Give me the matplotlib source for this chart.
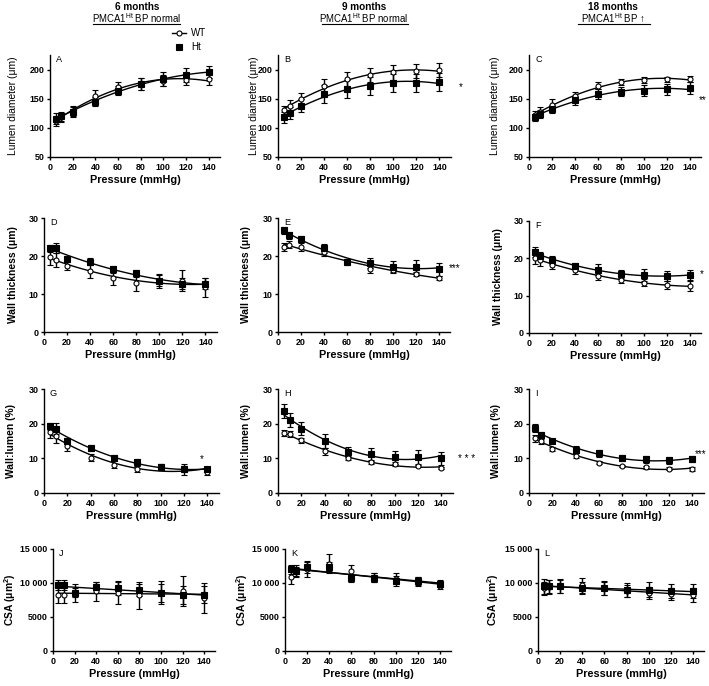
import numpy as np
import matplotlib
matplotlib.use("Agg")
import matplotlib.pyplot as plt
from matplotlib.lines import Line2D

plt.rcParams['font.family'] = ['Liberation Sans', 'DejaVu Sans']

# ---------------- data ----------------
pressure = [5, 10, 20, 40, 60, 80, 100, 120, 140]
xticks = [0, 20, 40, 60, 80, 100, 120, 140]

col_titles = ["6 months", "9 months", "18 months"]
col_subtitles = ["PMCA1$^{\\mathregular{Ht}}$ BP normal",
                 "PMCA1$^{\\mathregular{Ht}}$ BP normal",
                 "PMCA1$^{\\mathregular{Ht}}$ BP \u2191"]
row_labels = ["Lumen diameter (\u03bcm)", "Wall thickness (\u03bcm)",
              "Wall:lumen (%)", "CSA (\u03bcm$^{\\mathregular{2}}$)"]
panel_letters = ["A", "B", "C", "D", "E", "F", "G", "H", "I", "J", "K", "L"]
signif = ["", "*", "**", "", "***", "*", "*", "* * *", "***", "", "", ""]

# Lumen diameter (um)
lumen_6m_wt = [112, 118, 129, 155, 170, 175, 181, 182, 183]
lumen_6m_wt_sem = [8, 8, 9, 10, 9, 10, 10, 9, 10]
lumen_6m_ht = [116, 120, 127, 145, 164, 175, 184, 190, 196]
lumen_6m_ht_sem = [9, 8, 8, 8, 8, 10, 12, 12, 10]
lumen_9m_wt = [130, 138, 150, 172, 183, 190, 195, 197, 200]
lumen_9m_wt_sem = [8, 10, 10, 12, 12, 12, 13, 12, 12]
lumen_9m_ht = [118, 125, 138, 158, 167, 172, 177, 177, 179]
lumen_9m_ht_sem = [10, 10, 11, 15, 15, 15, 15, 15, 15]
lumen_18m_wt = [122, 127, 140, 155, 172, 178, 182, 183, 184]
lumen_18m_wt_sem = [7, 8, 9, 7, 6, 5, 5, 5, 5]
lumen_18m_ht = [118, 124, 133, 147, 158, 162, 164, 166, 168]
lumen_18m_ht_sem = [6, 7, 7, 7, 8, 8, 10, 10, 10]

# Wall thickness (um)
wall_6m_wt = [19.7, 19.0, 17.5, 16.0, 14.3, 13.0, 13.5, 13.5, 11.8]
wall_6m_wt_sem = [2.0, 1.8, 1.3, 1.8, 1.8, 2.2, 1.8, 2.8, 2.5]
wall_6m_ht = [22.0, 22.0, 19.2, 18.5, 16.5, 15.5, 13.5, 12.7, 12.7]
wall_6m_ht_sem = [1.0, 1.3, 0.9, 0.9, 0.9, 0.9, 1.5, 1.5, 1.5]
wall_9m_wt = [22.3, 23.0, 22.3, 21.0, 18.5, 16.5, 16.3, 15.3, 14.2]
wall_9m_wt_sem = [1.0, 0.9, 1.0, 1.0, 0.7, 0.9, 0.7, 0.6, 0.5]
wall_9m_ht = [26.8, 25.5, 24.5, 22.0, 18.5, 18.2, 17.2, 17.2, 16.5]
wall_9m_ht_sem = [0.9, 0.9, 0.7, 1.1, 0.8, 1.3, 1.5, 1.8, 1.7]
wall_18m_wt = [20.0, 19.5, 18.3, 17.0, 15.3, 14.3, 13.5, 12.8, 12.5]
wall_18m_wt_sem = [1.5, 1.5, 1.2, 1.2, 1.2, 1.0, 1.0, 1.0, 1.3]
wall_18m_ht = [21.7, 20.7, 19.6, 18.0, 17.0, 15.8, 15.5, 15.2, 15.5]
wall_18m_ht_sem = [1.4, 1.0, 1.0, 0.8, 1.5, 1.2, 1.6, 1.4, 1.3]

# Wall:lumen (%)
wl_6m_wt = [17.5, 16.5, 13.5, 10.2, 8.2, 7.0, 7.5, 7.0, 6.2]
wl_6m_wt_sem = [1.5, 2.2, 1.3, 1.0, 0.9, 0.8, 0.8, 0.9, 1.0]
wl_6m_ht = [19.3, 18.5, 15.0, 13.0, 10.2, 8.8, 7.5, 6.8, 6.8]
wl_6m_ht_sem = [1.0, 1.6, 1.0, 0.9, 0.7, 1.0, 0.8, 1.5, 0.8]
wl_9m_wt = [17.3, 17.0, 15.2, 12.0, 10.2, 8.8, 8.3, 7.8, 7.2]
wl_9m_wt_sem = [0.8, 0.8, 0.7, 1.0, 0.6, 0.5, 0.5, 0.4, 0.4]
wl_9m_ht = [23.7, 21.0, 18.5, 15.0, 11.8, 11.2, 10.3, 10.5, 10.0]
wl_9m_ht_sem = [2.0, 2.0, 1.9, 2.0, 1.5, 1.8, 1.8, 2.0, 1.9]
wl_18m_wt = [15.8, 15.0, 12.8, 10.8, 8.7, 7.8, 7.4, 7.0, 6.9]
wl_18m_wt_sem = [1.0, 0.8, 0.6, 0.7, 0.4, 0.4, 0.4, 0.4, 0.5]
wl_18m_ht = [18.8, 16.7, 15.0, 12.5, 11.4, 10.0, 9.7, 9.5, 9.8]
wl_18m_ht_sem = [1.1, 1.0, 0.6, 1.1, 1.0, 0.9, 1.0, 1.0, 1.0]

# Cross-sectional area (um^2)
csa_6m_wt = [8300, 8300, 8500, 8800, 8600, 8200, 8600, 8800, 7800]
csa_6m_wt_sem = [1300, 1300, 1300, 1400, 1700, 2000, 1700, 2200, 2200]
csa_6m_ht = [9700, 9700, 8600, 9400, 9200, 9000, 8500, 8200, 8300]
csa_6m_ht_sem = [800, 800, 700, 800, 1000, 900, 1300, 1300, 1300]
csa_9m_wt = [10900, 11800, 12100, 12800, 11700, 10800, 10600, 10200, 9600]
csa_9m_wt_sem = [1000, 900, 1200, 1400, 900, 600, 800, 700, 500]
csa_9m_ht = [12000, 11700, 12300, 12400, 10700, 10800, 10300, 10300, 9900]
csa_9m_ht_sem = [700, 700, 800, 700, 500, 600, 700, 600, 500]
csa_18m_wt = [9200, 9400, 9600, 9700, 9300, 8800, 8500, 8400, 8200]
csa_18m_wt_sem = [900, 1000, 1000, 1100, 1000, 900, 900, 900, 1000]
csa_18m_ht = [9500, 9500, 9500, 9300, 9200, 9000, 9000, 8800, 8800]
csa_18m_ht_sem = [1100, 1000, 1000, 900, 1000, 1000, 1100, 1000, 1000]

# ---------------- layout ----------------
W, H = 709, 686
fig = plt.figure(figsize=(W / 100, H / 100), dpi=100)

def px_axes(left, top, width, bottom):
    return fig.add_axes([left / W, 1 - bottom / H, width / W, (bottom - top) / H])

# (left, top, width, bottom, ylabel x-offset px of label's right edge)
boxes = [
    (50, 55, 170, 157, 32), (278, 55, 173, 157, 19), (529, 55, 172, 157, 29),
    (44, 218, 173, 332, 26), (278, 218, 172, 332, 27), (529, 221, 172, 333, 26),
    (44, 389, 175, 493, 28), (278, 389, 175, 493, 27), (529, 389, 175, 493, 28),
    (53, 549, 162, 651, 35), (285, 549, 166, 651, 35), (538, 549, 166, 651, 37),
]

panel_data = [
    (lumen_6m_wt, lumen_6m_wt_sem, lumen_6m_ht, lumen_6m_ht_sem),
    (lumen_9m_wt, lumen_9m_wt_sem, lumen_9m_ht, lumen_9m_ht_sem),
    (lumen_18m_wt, lumen_18m_wt_sem, lumen_18m_ht, lumen_18m_ht_sem),
    (wall_6m_wt, wall_6m_wt_sem, wall_6m_ht, wall_6m_ht_sem),
    (wall_9m_wt, wall_9m_wt_sem, wall_9m_ht, wall_9m_ht_sem),
    (wall_18m_wt, wall_18m_wt_sem, wall_18m_ht, wall_18m_ht_sem),
    (wl_6m_wt, wl_6m_wt_sem, wl_6m_ht, wl_6m_ht_sem),
    (wl_9m_wt, wl_9m_wt_sem, wl_9m_ht, wl_9m_ht_sem),
    (wl_18m_wt, wl_18m_wt_sem, wl_18m_ht, wl_18m_ht_sem),
    (csa_6m_wt, csa_6m_wt_sem, csa_6m_ht, csa_6m_ht_sem),
    (csa_9m_wt, csa_9m_wt_sem, csa_9m_ht, csa_9m_ht_sem),
    (csa_18m_wt, csa_18m_wt_sem, csa_18m_ht, csa_18m_ht_sem),
]

row_ylim = [(50, 225), (0, 30), (0, 30), (0, 15000)]
row_yticks = [[50, 100, 150, 200], [0, 10, 20, 30], [0, 10, 20, 30],
              [0, 5000, 10000, 15000]]
row_ytlabels = [["50", "100", "150", "200"], ["0", "10", "20", "30"],
                ["0", "10", "20", "30"], ["0", "5000", "10 000", "15 000"]]
fit_degree = [2, 2, 2, 1]

sig_pos = [None, (461, 87), (703, 100), None, (455, 268), (702, 274),
           (202, 459), (467, 459), (701, 454), None, None, None]

x = np.array(pressure, dtype=float)
xs = np.linspace(5, 140, 120)

for i, (box, data) in enumerate(zip(boxes, panel_data)):
    r, c = divmod(i, 3)
    left, top, width, bottom, yoff = box
    ax = px_axes(left, top, width, bottom)
    wt, wt_e, ht, ht_e = data
    for y, e, mk, mfc in ((wt, wt_e, 'o', 'white'), (ht, ht_e, 's', 'black')):
        coef = np.polyfit(x, np.array(y, dtype=float), fit_degree[r])
        ax.plot(xs, np.polyval(coef, xs), color='black', lw=1.0, zorder=2)
        ax.errorbar(x, y, yerr=e, fmt=mk, ms=3.8 if mk == 's' else 3.6,
                    mfc=mfc, mec='black', mew=0.8, ecolor='black',
                    elinewidth=1.0, capsize=2.3, capthick=1.0, zorder=3,
                    clip_on=False)
    ax.set_xlim(0, 150)
    ax.set_ylim(*row_ylim[r])
    ax.set_xticks(xticks)
    ax.set_xticklabels([str(t) for t in xticks], fontweight='bold', fontsize=6.4)
    ax.set_yticks(row_yticks[r])
    ax.set_yticklabels(row_ytlabels[r], fontweight='bold', fontsize=6.4)
    for s in ('top', 'right'):
        ax.spines[s].set_visible(False)
    for s in ('left', 'bottom'):
        ax.spines[s].set_linewidth(1.0)
    ax.tick_params(length=2.5, width=1.0, pad=1.5)
    ax.set_xlabel("Pressure (mmHg)", fontweight='bold', fontsize=7.8, labelpad=2.5)
    ax.set_ylabel(row_labels[r], fontweight='normal' if r == 0 else 'bold',
                  fontsize=7.4)
    ax.yaxis.set_label_coords(-yoff / width, 0.5)
    ax.text(6 / width, 1.0, panel_letters[i], transform=ax.transAxes,
            fontsize=6.6, va='top', ha='left')
    if sig_pos[i] is not None:
        sx, sy = sig_pos[i]
        fig.text(sx / W, 1 - sy / H, signif[i], fontsize=7, ha='center',
                 va='center')

# column headers
title_cx = [137, 364, 613]
underline = [(93, 180), (322, 408), (578, 650)]
for j in range(3):
    fig.text(title_cx[j] / W, 1 - 7 / H, col_titles[j], fontsize=7.2,
             fontweight='bold', ha='center', va='center')
    fig.text(title_cx[j] / W, 1 - 18 / H, col_subtitles[j], fontsize=6.9,
             ha='center', va='center')
    x0, x1 = underline[j]
    fig.add_artist(Line2D([x0 / W, x1 / W], [1 - 24 / H, 1 - 24 / H],
                          color='black', lw=0.8, transform=fig.transFigure))

# legend in panel A
fig.add_artist(Line2D([172 / W, 186 / W], [1 - 33 / H, 1 - 33 / H], color='black',
                      lw=1.0, transform=fig.transFigure))
fig.add_artist(Line2D([179 / W], [1 - 33 / H], color='black', marker='o', ms=3.6,
                      mfc='white', mew=0.8, transform=fig.transFigure))
fig.add_artist(Line2D([179 / W], [1 - 47 / H], color='black', marker='s', ms=3.8,
                      mfc='black', mew=0.8, transform=fig.transFigure))
fig.text(191 / W, 1 - 33 / H, "WT", fontsize=7, va='center', ha='left')
fig.text(191 / W, 1 - 47 / H, "Ht", fontsize=7, va='center', ha='left')

fig.savefig("out.png", dpi=100)
